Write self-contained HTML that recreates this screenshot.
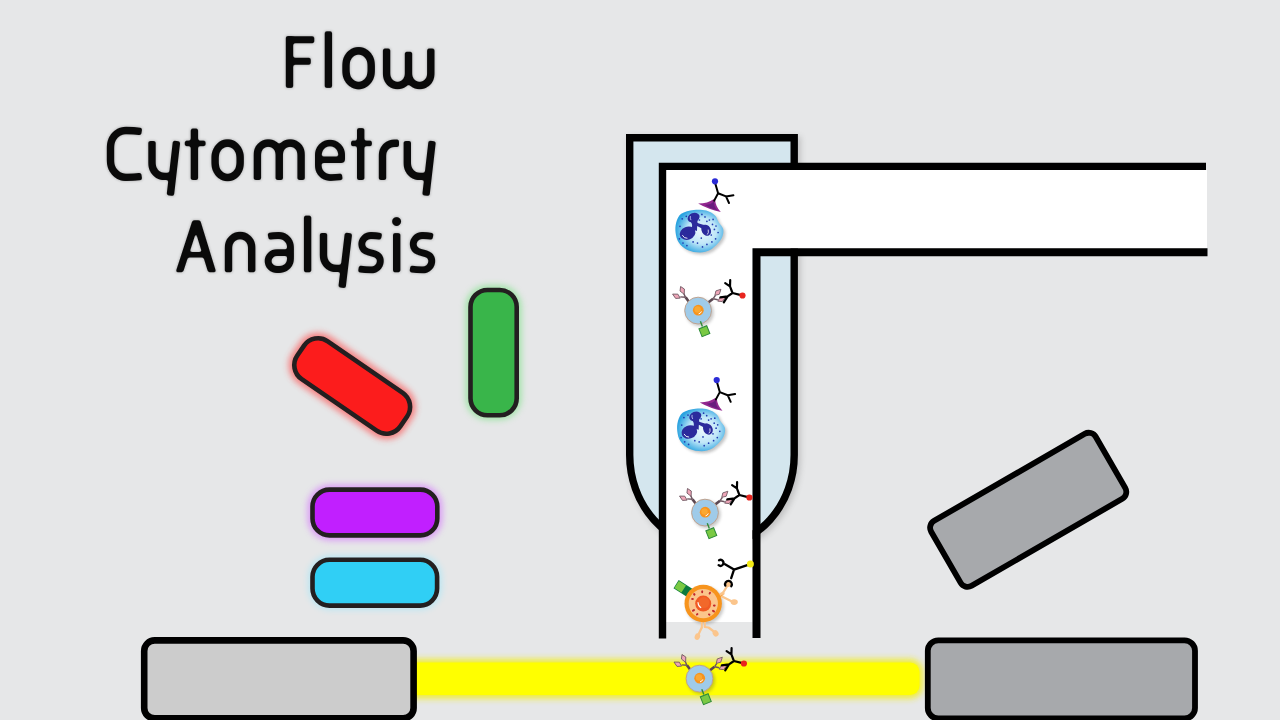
<!DOCTYPE html>
<html><head><meta charset="utf-8"><title>Flow Cytometry Analysis</title>
<style>
html,body{margin:0;padding:0;background:#e6e7e8;overflow:hidden;font-family:"Liberation Sans",sans-serif;}
svg{display:block;position:absolute;left:0;top:0}
</style></head><body>
<svg width="1280" height="720" viewBox="0 0 1280 720">
<defs>
<filter id="glow" x="-30%" y="-30%" width="160%" height="160%"><feGaussianBlur stdDeviation="3"/></filter>
<filter id="beamglow" x="-5%" y="-60%" width="110%" height="220%"><feGaussianBlur stdDeviation="3.4"/></filter>
<filter id="soft" x="-5%" y="-10%" width="110%" height="120%" color-interpolation-filters="sRGB"><feGaussianBlur stdDeviation="1.0"/><feComponentTransfer><feFuncA type="linear" slope="3" intercept="-1"/></feComponentTransfer></filter>
<filter id="halo" x="-5%" y="-10%" width="110%" height="120%"><feGaussianBlur stdDeviation="1.6"/></filter>
<filter id="sh" x="-30%" y="-30%" width="160%" height="160%"><feGaussianBlur stdDeviation="1.5"/></filter>
<radialGradient id="neut" cx="55%" cy="50%" r="55%"><stop offset="0" stop-color="#eef9fe"/><stop offset="0.55" stop-color="#bfe6f8"/><stop offset="1" stop-color="#2ba3e0"/></radialGradient>
</defs>
<rect width="1280" height="720" fill="#e6e7e8"/>

<!-- TITLE -->
<use href="#title" filter="url(#halo)" opacity=".28"/>
<g filter="url(#soft)"><g id="title" fill="none" stroke="#0a0a0a" stroke-width="7.4" stroke-linejoin="round">
<!-- Flow -->
<path d="M289.5 87.9V36.2"/><path d="M286 39.7H314.3M286 61.2H310.8" stroke-width="7"/>
<path d="M328.4 87.9V31.3"/>
<rect x="346" y="50.7" width="25.2" height="35" rx="12.6" ry="14"/>
<path d="M386.6 48.6V74.6A10.95 11 0 0 0 408.5 74.6V51.7M408.5 74.6A11.15 11 0 0 0 430.8 74.6V48.6"/>
<!-- Cytometry -->
<path d="M141.7 131.7Q134 130.5 125.5 130.5A15 16.5 0 0 0 110.5 147V161A15 16.5 0 0 0 125.5 177.4Q134 177.4 141.7 176.3"/>
<path d="M152 141V164A12.4 12.4 0 0 0 164.4 176.4H172.5M176.6 141L170.3 195.6"/>
<path d="M194.4 180V128.5"/><path d="M184.75 143.4H205.6" stroke-width="5.6"/>
<rect x="215.1" y="143" width="25.05" height="34.6" rx="12.5" ry="14"/>
<path d="M257.4 180V153.9A10.9 10.9 0 0 1 279.25 153.9V180M279.25 153.9A10.9 10.9 0 0 1 301.1 153.9V180"/>
<path d="M318.3 159.7H341.7V154.7A11.7 11.7 0 0 0 318.3 154.7V165.9A11.7 11.7 0 0 0 330 177.6Q336 177.6 342.3 176.8" stroke-width="6.6"/>
<path d="M360.7 180V128.1"/><path d="M351 143.4H371.9" stroke-width="5.6"/>
<path d="M382.5 180V155A11.7 11.7 0 0 1 394.2 143.3H399"/>
<path d="M407.3 141V164A12.4 12.4 0 0 0 419.7 176.4H427.7M432.2 141L425.9 195.6"/>
<!-- Analysis -->
<path d="M175.6 272.3L192.5 220.25H200.25L216.25 272.3H208.1L203.55 257.5H187.9L183.1 272.3ZM189.7 251.9L195.9 232.75L201.8 251.9Z" fill="#0a0a0a" fill-rule="evenodd" stroke="none"/>
<path d="M228.5 272.3V247.1A11.6 11.6 0 0 1 251.7 247.1V272.3"/>
<path d="M268.1 236.4Q273 235.5 279 235.5A11.5 11.5 0 0 1 290.5 247V259A10.5 10.5 0 0 1 280 269.5H276.5A8.3 8.3 0 0 1 276.5 252.6H290.5" stroke-width="6.8"/>
<path d="M307.6 272.3V215.6"/>
<path d="M323.5 233V256A12.4 12.4 0 0 0 335.9 268.4H344M348.5 233L342 287.8"/>
<path id="s" d="M381.6 236.5Q376 235.5 370.5 235.5A8.8 8.8 0 0 0 361.7 244.3Q361.7 250.5 369 252.3L374 253.6Q380.4 255.5 380.4 261A8.9 8.9 0 0 1 371.5 269.9Q365 269.9 358.5 268.9" stroke-width="6.8"/>
<path d="M396.7 272.3V233.1"/><circle cx="396.6" cy="221.6" r="4.6" fill="#0a0a0a" stroke="none"/>
<path d="M433.05 236.5Q427.45 235.5 421.95 235.5A8.8 8.8 0 0 0 413.15 244.3Q413.15 250.5 420.45 252.3L425.45 253.6Q431.85 255.5 431.85 261A8.9 8.9 0 0 1 422.95 269.9Q416.45 269.9 409.95 268.9" stroke-width="6.8"/>
</g></g>

<!-- COLOURED FILTERS -->
<g id="filters">
<g transform="translate(352.2 386) rotate(34.5)">
<rect x="-68" y="-28.5" width="136" height="57" rx="22" fill="#ff3b3b" filter="url(#glow)" opacity=".6"/>
<rect x="-62.5" y="-23" width="125" height="46" rx="17" fill="#fc1c1c" stroke="#231f20" stroke-width="4.6"/>
</g>
<rect x="465.5" y="285" width="56" height="135" rx="22" fill="#5fe06a" filter="url(#glow)" opacity=".5"/>
<rect x="470.5" y="290" width="46.2" height="125.3" rx="17" fill="#39b54a" stroke="#231f20" stroke-width="4.6"/>
<rect x="307.5" y="484.5" width="135" height="56" rx="22" fill="#d060ff" filter="url(#glow)" opacity=".55"/>
<rect x="312.5" y="489.6" width="124.8" height="45.8" rx="17" fill="#c11fff" stroke="#231f20" stroke-width="4.6"/>
<rect x="308" y="555" width="134" height="55" rx="22" fill="#8ae6ff" filter="url(#glow)" opacity=".45"/>
<rect x="312.5" y="559.8" width="124.6" height="45.8" rx="17" fill="#30cff5" stroke="#231f20" stroke-width="4.6"/>
</g>

<!-- LASER BEAM -->
<rect x="398" y="659" width="525" height="39.5" rx="13" fill="#f2ee22" filter="url(#beamglow)" opacity=".9"/>
<rect x="400" y="662.5" width="519.5" height="32.5" rx="9.5" fill="#ffff00"/>

<!-- GREY BOXES -->
<rect x="144.2" y="640.4" width="269.4" height="78" rx="10.5" fill="#cccccc" stroke="#000" stroke-width="6.6"/>
<rect x="927.8" y="640.3" width="267.2" height="78.2" rx="10.5" fill="#a7a9ac" stroke="#000" stroke-width="5.8"/>
<g transform="translate(1028.2 509.8) rotate(-30)"><rect x="-95" y="-37.5" width="190" height="75" rx="8" fill="#a7a9ac" stroke="#000" stroke-width="5.8"/></g>

<!-- TUBES -->
<g id="tubes">
<path d="M629.7 137.7H794.2V455A82.25 91.5 0 0 1 629.7 455Z" transform="translate(2.5 2.5)" fill="#333" stroke="#333" stroke-width="7.4" opacity=".22" filter="url(#glow)"/>
<path d="M629.7 137.7H794.2V455A82.25 91.5 0 0 1 629.7 455Z" fill="#d4e6ee" stroke="#000" stroke-width="7.4"/>
<path d="M666 170H1207V248.5H752.5V622H666Z" fill="#fff"/>
<path d="M1206 166.4H662.5V638.5" fill="none" stroke="#000" stroke-width="7.4"/>
<path d="M1207.5 252.3H756.5V638" fill="none" stroke="#000" stroke-width="8"/>
</g>

<!-- CELLS -->
<defs>
<g id="neutro">
  <path d="M693.8 210.0C697.9 209.5 702.7 209.7 706.2 210.6C709.8 211.5 712.9 213.6 715.0 215.6C717.1 217.6 717.4 220.3 718.8 222.5C720.1 224.7 722.5 226.5 723.1 228.8C723.7 231.0 723.4 233.8 722.5 236.2C721.6 238.8 719.6 241.5 717.5 243.8C715.4 246.0 712.9 248.5 710.0 250.0C707.1 251.5 703.8 252.5 700.0 252.5C696.2 252.5 691.0 251.7 687.5 250.0C684.0 248.3 680.7 245.4 678.8 242.5C676.8 239.6 676.0 235.8 675.6 232.5C675.2 229.2 675.3 225.6 676.2 222.5C677.2 219.4 678.3 215.8 681.2 213.8C684.2 211.7 689.6 210.5 693.8 210.0Z" transform="translate(2 2)" fill="#555" opacity=".35" filter="url(#sh)"/>
  <path d="M693.8 210.0C697.9 209.5 702.7 209.7 706.2 210.6C709.8 211.5 712.9 213.6 715.0 215.6C717.1 217.6 717.4 220.3 718.8 222.5C720.1 224.7 722.5 226.5 723.1 228.8C723.7 231.0 723.4 233.8 722.5 236.2C721.6 238.8 719.6 241.5 717.5 243.8C715.4 246.0 712.9 248.5 710.0 250.0C707.1 251.5 703.8 252.5 700.0 252.5C696.2 252.5 691.0 251.7 687.5 250.0C684.0 248.3 680.7 245.4 678.8 242.5C676.8 239.6 676.0 235.8 675.6 232.5C675.2 229.2 675.3 225.6 676.2 222.5C677.2 219.4 678.3 215.8 681.2 213.8C684.2 211.7 689.6 210.5 693.8 210.0Z" fill="url(#neut)"/>
  <!-- nucleus -->
  <g fill="#2b2a9c">
    <ellipse cx="687.6" cy="233.2" rx="8" ry="6.5" transform="rotate(-22 687.6 233.2)"/>
    <ellipse cx="693.6" cy="217.6" rx="6.2" ry="4.7" transform="rotate(-22 693.6 217.6)"/>
    <path d="M690 220.5C692.5 224 692.8 226 691 229L697 231C697 226.5 697.6 223.5 697.4 219.5Z"/>
    <ellipse cx="706.2" cy="230.3" rx="4.6" ry="5.8" transform="rotate(-30 706.2 230.3)"/>
    <path d="M696 222C699 224 702 224.6 706 225L703 229C700 227.5 698 226.5 696 225.5Z"/>
  </g>
  <path d="M682.5 235.5Q684 238.5 687 238.3" fill="none" stroke="#fff" stroke-width=".9" stroke-linecap="round"/>
  <path d="M708.3 230Q709 233 707.5 234.3" fill="none" stroke="#fff" stroke-width=".8" stroke-linecap="round"/>
  <path d="M690.3 216.5Q689.8 218.3 690.8 219.8" fill="none" stroke="#cfd8ff" stroke-width=".8" stroke-linecap="round"/>
  <g fill="#1f3bb0">
    <circle cx="686.3" cy="216.3" r=".85"/><circle cx="682.2" cy="218.8" r=".85"/><circle cx="680" cy="226.3" r=".85"/><circle cx="679.4" cy="238.8" r=".85"/>
    <circle cx="686.9" cy="245.6" r=".85"/><circle cx="693.1" cy="241.9" r=".85"/><circle cx="697.5" cy="243.1" r=".85"/><circle cx="701.3" cy="238.1" r=".85"/>
    <circle cx="706.9" cy="244.4" r=".85"/><circle cx="711.9" cy="241.9" r=".85"/><circle cx="715.6" cy="238.8" r=".85"/><circle cx="718.1" cy="232.5" r=".85"/>
    <circle cx="714.4" cy="229.4" r=".85"/><circle cx="712.5" cy="224.4" r=".85"/><circle cx="709.4" cy="220" r=".85"/><circle cx="705" cy="216.9" r=".85"/>
    <circle cx="701.9" cy="214.4" r=".85"/><circle cx="706.9" cy="221.3" r=".85"/><circle cx="711.3" cy="235" r=".85"/><circle cx="702.5" cy="246.9" r=".85"/>
    <circle cx="713.1" cy="219.4" r=".85"/><circle cx="699.4" cy="220" r=".85"/><circle cx="683" cy="243" r=".85"/><circle cx="716" cy="226" r=".85"/>
  </g>
  <!-- receptor -->
  <path d="M698.1 203.6Q708 203.5 713.6 199.3L715.2 200.2Q715.5 206.5 720.8 212Q708.5 209.5 698.1 203.6Z" fill="#93278f"/>
  <path d="M705 205Q711 204.5 714 201.5Q714 207 717.5 210.5Q710 208.5 705 205Z" fill="#5f1a78" opacity=".8"/>
  <!-- antibody -->
  <g fill="none" stroke="#000" stroke-width="2" stroke-linecap="round" stroke-linejoin="round">
    <path d="M714.2 200.6L718.1 193.3L715.3 183.5M718.1 193.3L726 196.4L733.4 195.3M726 196.4L729 203"/>
  </g>
  <circle cx="715" cy="181.3" r="3.1" fill="#2b2bd6"/>
</g>

<path id="dia" d="M-4.3 0L-0.4 -2.4L4.3 0L-0.4 2.4Z" fill="#efa6b8" stroke="#6d5560" stroke-width=".8" stroke-linejoin="round"/>

<g id="tcell">
  <circle cx="699.8" cy="312.4" r="14" fill="#555" opacity=".3" filter="url(#sh)"/>
  <g fill="none" stroke="#5c4852">
    <path d="M690 303.3L685.6 297.2" stroke-width="2.7"/><path d="M707.6 303L713.1 298.7" stroke-width="2.7"/>
    <path d="M685.6 297.2L683.9 293.9M685.6 297.2L680.3 296.9M713.1 298.7L715.5 295.3M713.1 298.7L717.8 299.8" stroke-width="1.4" stroke="#6d5560"/>
  </g>
  <use href="#dia" transform="translate(682.4 290.4) rotate(65)"/>
  <use href="#dia" transform="translate(676.4 296.1) rotate(208)"/>
  <use href="#dia" transform="translate(717.9 292.3) rotate(-45)"/>
  <use href="#dia" transform="translate(721.6 299.2) rotate(-27)"/>
  <circle cx="698.1" cy="310.6" r="13.4" fill="#9fcbe9" stroke="#bfa390" stroke-width="1"/>
  <circle cx="698.3" cy="310.2" r="5.4" fill="#f7931e"/>
  <circle cx="697.6" cy="309.5" r="3.2" fill="#fbb03b" opacity=".7"/>
  <path d="M701.3 311.8Q700.6 313.6 699 313.8" stroke="#fff" stroke-width="1" fill="none" stroke-linecap="round"/>
  <!-- green tag -->
  <path d="M700.4 321.3L702.4 326.6" stroke="#2e8b3a" stroke-width="1.4" fill="none"/>
  <rect x="-4.2" y="-4.2" width="8.4" height="8.4" transform="translate(704.4 331.2) rotate(-22)" fill="#7ac943" stroke="#2e8b3a" stroke-width="1"/>
  <!-- black antibody + red dot -->
  <g fill="none" stroke="#000" stroke-width="2.2" stroke-linecap="round" stroke-linejoin="round">
    <path d="M720.4 297.4L727.6 296.4L723.8 302.3M727.6 296.4L732.5 293L742 295.4M732.5 293L730 286.4L725.2 283.2M730 286.4L730.2 280.2"/>
  </g>
  <circle cx="742.5" cy="295.5" r="3.1" fill="#e8251e"/>
</g>

<g id="ocell">
  <circle cx="705" cy="605.5" r="19" fill="#555" opacity=".3" filter="url(#sh)"/>
  <!-- peach receptors -->
  <g fill="none" stroke="#fbc58c" stroke-linecap="round" stroke-linejoin="round">
    <path d="M716.5 597.5L722.8 593.5" stroke-width="3.6"/>
    <path d="M722.3 594L727.8 585" stroke-width="2.3"/>
    <path d="M722 596.5L732 601.5" stroke-width="2.3"/>
    <path d="M701.8 620V627.5" stroke-width="2"/><path d="M704.8 620V627" stroke-width="2"/>
    <path d="M701.8 627.5L698 635.5" stroke-width="2.2"/>
    <path d="M704.8 627L708.5 627.5L714.5 632" stroke-width="2.2"/>
  </g>
  <path d="M716.8 598.6L722.5 595" stroke="#f7941d" stroke-width=".7" fill="none"/>
  <circle cx="728.2" cy="584" r="2.9" fill="#fbc58c"/>
  <ellipse cx="734.2" cy="602.1" rx="3.6" ry="2.8" fill="#fbc58c"/>
  <ellipse cx="697.4" cy="636.6" rx="2.7" ry="3.3" fill="#fbc58c" transform="rotate(20 697.4 636.6)"/>
  <ellipse cx="715.6" cy="633.4" rx="2.8" ry="3.3" fill="#fbc58c" transform="rotate(-35 715.6 633.4)"/>
  <!-- green tag -->
  <g transform="translate(683.7 589) rotate(32.5)">
    <rect x="-9" y="-4.8" width="18" height="9.6" fill="#0b7a3e"/>
    <rect x="-8.4" y="-4.2" width="8.4" height="8.4" fill="#7ac943"/>
  </g>
  <circle cx="703.2" cy="603.5" r="18.7" fill="#f7941d"/>
  <circle cx="703.3" cy="603.6" r="14.6" fill="#fbc58c"/>
  <circle cx="703.2" cy="603.6" r="8" fill="#f15a24"/>
  <circle cx="703.8" cy="602.6" r="5.5" fill="#f26b2c" opacity=".8"/>
  <path d="M698 602.5Q698.3 606.3 700.8 607.6" stroke="#fff" stroke-width="1.1" fill="none" stroke-linecap="round"/>
  <g fill="#c1272d">
    <ellipse cx="702.2" cy="591.8" rx="1" ry="1.5"/><ellipse cx="709.8" cy="593.1" rx="1" ry="1.5" transform="rotate(25 709.8 593.1)"/>
    <ellipse cx="694.3" cy="594.4" rx="1.1" ry="1.4" transform="rotate(-30 694.3 594.4)"/><ellipse cx="692.5" cy="599" rx="1.4" ry="1" />
    <ellipse cx="714.3" cy="605.6" rx="1.4" ry="1.1"/><ellipse cx="693.5" cy="610.4" rx="1.6" ry="1.1" transform="rotate(-30 693.5 610.4)"/>
    <ellipse cx="713.5" cy="611.1" rx="1.6" ry="1.1" transform="rotate(30 713.5 611.1)"/><ellipse cx="697.2" cy="614.3" rx="1.3" ry="1" transform="rotate(-40 697.2 614.3)"/>
    <ellipse cx="709.2" cy="614.6" rx="1.3" ry="1" transform="rotate(40 709.2 614.6)"/>
  </g>
  <!-- black antibody + yellow dot -->
  <g fill="none" stroke="#000" stroke-width="2.3" stroke-linecap="round" stroke-linejoin="round">
    <path d="M731.2 578.2L734 569.6L749.5 564.3M734 569.6L725 564.2"/>
    <path d="M731.3 586.2A3.4 3.4 0 1 0 725.3 585.6" />
    <path d="M719 560.2A3 3 0 1 1 718.6 565.2"/>
  </g>
  <circle cx="750.4" cy="563.9" r="3.5" fill="#f5ec15"/>
</g>
</defs>
<use href="#neutro"/>
<use href="#neutro" transform="translate(1.7 198.8)"/>
<use href="#tcell"/>
<use href="#tcell" transform="translate(6.9 202)"/>
<use href="#ocell"/>
<use href="#tcell" transform="translate(1.4 368)"/>
</svg>
</body></html>
